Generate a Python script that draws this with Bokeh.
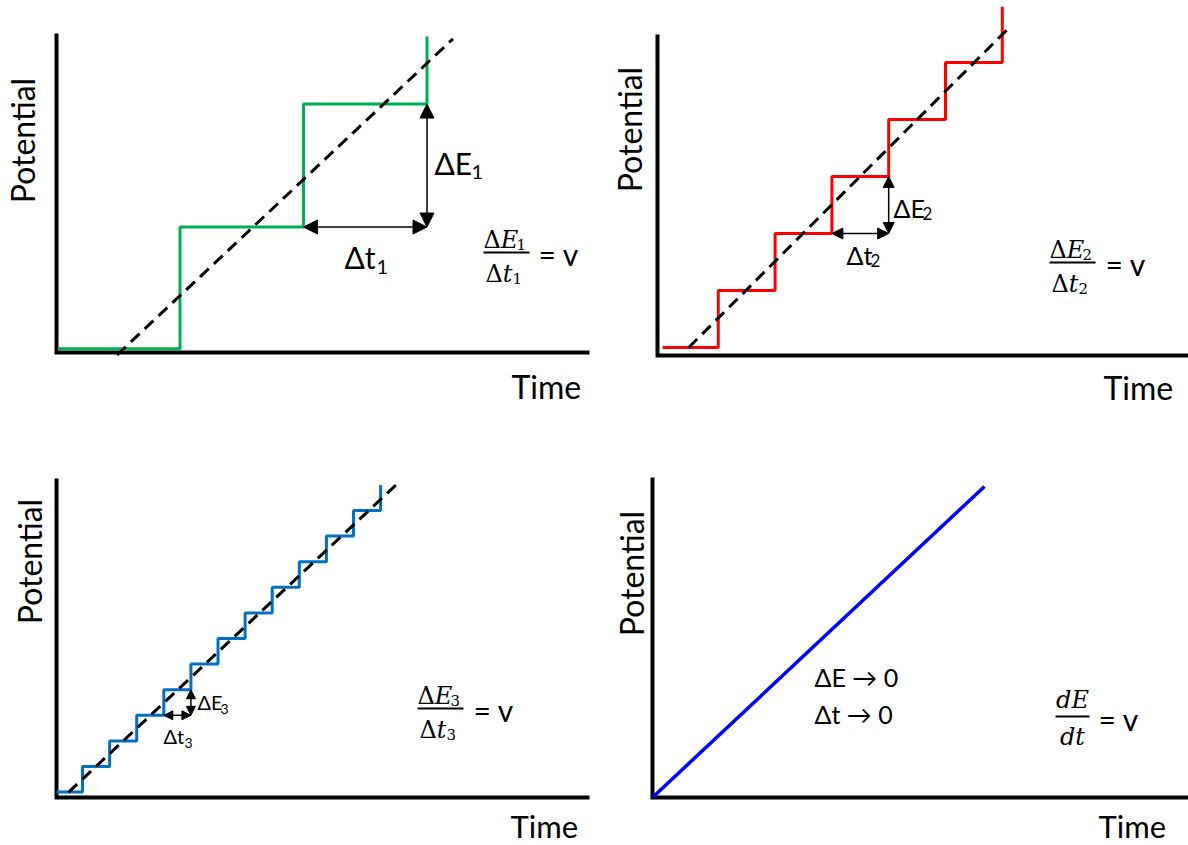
from bokeh.plotting import figure
from bokeh.layouts import column, row
from bokeh.models import Range1d, Label, Arrow, NormalHead
from bokeh.embed import file_html
from bokeh.resources import INLINE

# ---------------- data (time, potential in step units) ----------------
# Panel 1: coarse staircase
t_steps1 = [0.02, 1.0, 2.0, 3.0]
E_steps1 = [0.03, 1.02, 2.02, 2.57]
t_ramp1 = [0.49, 3.21]
E_ramp1 = [-0.02, 2.55]

# Panel 2: finer staircase
t_steps2 = [0.09, 1.07, 2.07, 3.07, 4.07, 5.07, 6.07]
E_steps2 = [0.14, 1.14, 2.14, 3.14, 4.14, 5.14, 6.12]
t_ramp2 = [0.55, 6.20]
E_ramp2 = [0.14, 5.76]

# Panel 3: finest staircase
t_steps3 = [0.0, 0.96, 1.96, 2.96, 3.96, 4.96, 5.96, 6.96, 7.96, 8.96, 9.96, 10.96, 11.96]
E_steps3 = [0.21, 1.21, 2.21, 3.21, 4.21, 5.21, 6.21, 7.21, 8.21, 9.21, 10.21, 11.21, 12.21]
t_ramp3 = [0.44, 12.55]
E_ramp3 = [0.20, 12.23]

# Panel 4: continuous linear sweep
t_ramp4 = [0.0, 12.25]
E_ramp4 = [0.0, 12.15]

# which step each dimension arrow marks
arrow_step1 = 1
arrow_step2 = 2
arrow_step3 = 3

SANS = "Lato"
SERIF = "DejaVu Serif"


class Panel:
    def __init__(self, fx, fy, W, H, ox, oy, sx, sy, top_px, right_px):
        self.fx, self.fy, self.W, self.H = fx, fy, W, H
        self.ox, self.oy, self.sx, self.sy = ox, oy, sx, sy
        p = figure(width=W, height=H, output_backend="svg", toolbar_location=None,
                   x_range=Range1d(-ox / sx, (W - ox) / sx),
                   y_range=Range1d(-(H - oy) / sy, oy / sy),
                   min_border_left=0, min_border_bottom=0,
                   min_border_top=0, min_border_right=0)
        p.axis.visible = False
        p.grid.visible = False
        p.outline_line_color = None
        p.background_fill_color = "white"
        p.border_fill_color = "white"
        # axis lines (L shape through the origin)
        ytop = (oy - (top_px - fy)) / sy
        xright = (right_px - fx - ox) / sx
        p.line([0, 0, xright], [ytop, 0, 0], line_color="black", line_width=4,
               line_join="miter", line_cap="square")
        self.p = p

    def d(self, cx, cy):
        return (cx - self.fx - self.ox) / self.sx, (self.fy + self.oy - cy) / self.sy

    def text(self, cx, cy, s, size, font=SANS, style="normal", align="left",
             baseline="middle", angle=0.0):
        x, y = self.d(cx, cy)
        self.p.add_layout(Label(x=x, y=y, text=s, text_font=font, text_font_style=style,
                                text_font_size=f"{size}px", text_align=align,
                                text_baseline=baseline, angle=angle, text_color="black"))

    def hbar(self, cx0, cx1, cy, width=2):
        x0, y = self.d(cx0, cy)
        x1, _ = self.d(cx1, cy)
        self.p.segment(x0=[x0], y0=[y], x1=[x1], y1=[y], line_color="black", line_width=width)

    def labels(self, pot_x, pot_y, time_x, time_y, time_size=32):
        self.text(pot_x, pot_y, "Potential", 32, align="center", angle=1.5708)
        self.text(time_x, time_y, "Time", time_size)

    def delta_frac(self, x0, ybar, sub, size=24, eq_x=None):
        s = size
        nc = ybar - 13
        dc = ybar + 21
        ss = int(0.66 * s)
        self.text(x0, nc, "Δ", s, font=SERIF)
        self.text(x0 + 0.72 * s, nc, "E", s, font=SERIF, style="italic")
        self.text(x0 + 1.38 * s, nc + 5, sub, ss, font=SERIF)
        self.text(x0 + 2, dc, "Δ", s, font=SERIF)
        self.text(x0 + 2 + 0.72 * s, dc, "t", s, font=SERIF, style="italic")
        self.text(x0 + 2 + 1.13 * s, dc + 5, sub, ss, font=SERIF)
        self.hbar(x0, x0 + 46, ybar)
        self.text(eq_x, ybar + 1, "= v", 30)

    def dim_arrows(self, t, E, k, head):
        p = self.p
        p.add_layout(Arrow(x_start=t[k + 1], y_start=E[k], x_end=t[k + 2], y_end=E[k],
                           line_width=1.5, line_color="black",
                           start=NormalHead(size=head, fill_color="black", line_color="black"),
                           end=NormalHead(size=head, fill_color="black", line_color="black")))
        p.add_layout(Arrow(x_start=t[k + 2], y_start=E[k], x_end=t[k + 2], y_end=E[k + 1],
                           line_width=1.5, line_color="black",
                           start=NormalHead(size=head, fill_color="black", line_color="black"),
                           end=NormalHead(size=head, fill_color="black", line_color="black")))


DASH = dict(line_color="black", line_width=3, line_dash="12 7")

# ---------------- panel 1 ----------------
P1 = Panel(0, 0, 594, 422, 56, 352, 123.5, 123.0, 35, 587)
P1.p.step(t_steps1, E_steps1, mode="after", line_color="#00B050", line_width=3)
P1.p.line(t_ramp1, E_ramp1, **DASH)
P1.dim_arrows(t_steps1, E_steps1, arrow_step1, 14)
P1.labels(22, 140, 511, 386)
P1.text(434, 162, "ΔE", 30)
P1.text(471, 171, "1", 20)
P1.text(344, 256, "Δt", 30)
P1.text(376, 266, "1", 20)
P1.delta_frac(483, 252, "1", eq_x=538)

# ---------------- panel 2 ----------------
P2 = Panel(594, 0, 594, 422, 63, 355, 56.8, 57.0, 36, 1188)
P2.p.step(t_steps2, E_steps2, mode="after", line_color="#FF0000", line_width=3)
P2.p.line(t_ramp2, E_ramp2, **DASH)
P2.dim_arrows(t_steps2, E_steps2, arrow_step2, 11)
P2.labels(629, 129, 1103, 387)
P2.text(893, 207, "ΔE", 25)
P2.text(922, 213, "2", 17)
P2.text(846, 254, "Δt", 25)
P2.text(870, 260, "2", 17)
P2.delta_frac(1049, 262, "2", eq_x=1105)

# ---------------- panel 3 ----------------
P3 = Panel(0, 422, 594, 423, 56, 375, 27.1, 25.6, 480, 587)
P3.p.step(t_steps3, E_steps3, mode="after", line_color="#0070C0", line_width=3)
P3.p.line(t_ramp3, E_ramp3, **DASH)
P3.dim_arrows(t_steps3, E_steps3, arrow_step3, 9)
P3.labels(29, 561, 510, 825, time_size=31)
P3.text(197, 701, "ΔE", 20)
P3.text(220, 708, "3", 14)
P3.text(163, 735, "Δt", 20)
P3.text(184, 742, "3", 14)
P3.delta_frac(417, 708, "3", eq_x=473)

# ---------------- panel 4 ----------------
P4 = Panel(594, 422, 594, 423, 58, 375, 27.1, 25.6, 479, 1188)
P4.p.line(t_ramp4, E_ramp4, line_color="#0000FF", line_width=3.5)
P4.labels(631, 573, 1098, 825, time_size=31)
P4.text(814, 676, "ΔE → 0", 25)
P4.text(814, 713, "Δt → 0", 25)
P4.text(1072, 699, "dE", 24, font=SERIF, style="italic", align="center")
P4.text(1072, 736, "dt", 24, font=SERIF, style="italic", align="center")
P4.hbar(1055, 1089, 716)
P4.text(1098, 718, "= v", 30)

layout = column(row(P1.p, P2.p), row(P3.p, P4.p))
open("out.html", "w").write(file_html(layout, INLINE))
